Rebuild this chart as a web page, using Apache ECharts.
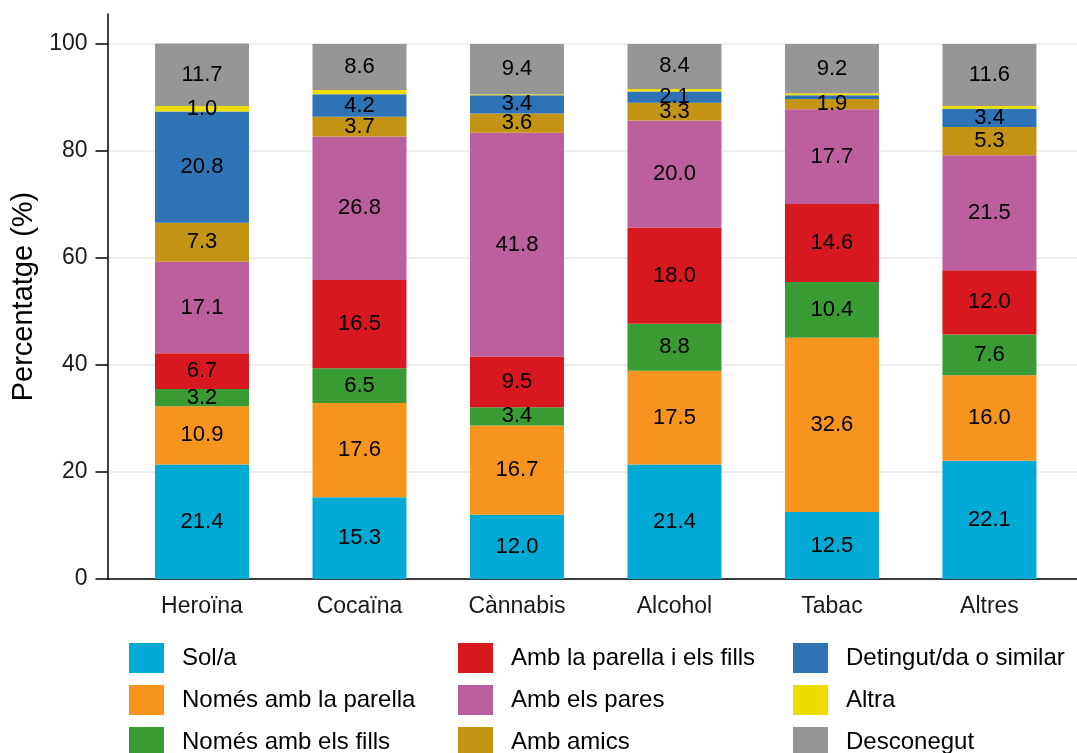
<!DOCTYPE html>
<html>
<head>
<meta charset="utf-8">
<script src="https://cdn.jsdelivr.net/npm/echarts@6/dist/echarts.min.js"></script>
<style>html,body{margin:0;padding:0;background:#fff}#c{width:1077px;height:753px}</style>
</head>
<body>
<div id="c"></div>
<script>
const categories = ['Heroïna', 'Cocaïna', 'Cànnabis', 'Alcohol', 'Tabac', 'Altres'];
const seriesNames = ['Sol/a', 'Només amb la parella', 'Només amb els fills', 'Amb la parella i els fills', 'Amb els pares', 'Amb amics', 'Detingut/da o similar', 'Altra', 'Desconegut'];
const solA        = [21.4, 15.3, 12.0, 21.4, 12.5, 22.1];
const nomesParella = [10.9, 17.6, 16.7, 17.5, 32.6, 16.0];
const nomesFills  = [3.2, 6.5, 3.4, 8.8, 10.4, 7.6];
const parellaFills = [6.7, 16.5, 9.5, 18.0, 14.6, 12.0];
const pares       = [17.1, 26.8, 41.8, 20.0, 17.7, 21.5];
const amics       = [7.3, 3.7, 3.6, 3.3, 1.9, 5.3];
const detingut    = [20.8, 4.2, 3.4, 2.1, 0.7, 3.4];
const altra       = [1.0, 0.8, 0.2, 0.5, 0.4, 0.5];
const desconegut  = [11.7, 8.6, 9.4, 8.4, 9.2, 11.6];
const yTicks = [0, 20, 40, 60, 80, 100];
const colors = ['#00AAD4', '#F7941D', '#3A9B35', '#D7191F', '#BC5F9F', '#C49415', '#2E73B5', '#EEDD00', '#969696'];

const allValues = [solA, nomesParella, nomesFills, parellaFills, pares, amics, detingut, altra, desconegut];
const catPos = categories.map((c, i) => i + 1);

const series = seriesNames.map((name, si) => ({
  name: name,
  type: 'bar',
  stack: 'total',
  barWidth: 94,
  itemStyle: { color: colors[si] },
  encode: { x: 1, y: 0 },
  label: {
    show: true,
    position: 'inside',
    color: '#000',
    fontSize: 22,
    fontFamily: 'Liberation Sans',
    formatter: p => (p.value[0] >= 1 ? p.value[0].toFixed(1) : '')
  },
  emphasis: { disabled: true },
  data: allValues[si].map((v, i) => [v, catPos[i]])
}));

const legendBase = {
  orient: 'vertical',
  top: 643,
  height: 130,
  padding: 0,
  itemWidth: 35,
  itemHeight: 30,
  itemGap: 12,
  icon: 'rect',
  selectedMode: false,
  textStyle: { fontSize: 24, color: '#000', fontFamily: 'Liberation Sans', padding: [0, 0, 0, 13] }
};

const option = {
  animation: false,
  backgroundColor: '#fff',
  textStyle: { fontFamily: 'Liberation Sans' },
  grid: { left: 107.5, right: 0, top: 14, bottom: 174, containLabel: false },
  legend: [
    Object.assign({}, legendBase, { left: 129, data: seriesNames.slice(0, 3) }),
    Object.assign({}, legendBase, { left: 458, data: seriesNames.slice(3, 6) }),
    Object.assign({}, legendBase, { left: 793, data: seriesNames.slice(6, 9) })
  ],
  xAxis: {
    type: 'value',
    min: 0.4,
    max: 6.556,
    splitLine: { show: false },
    axisLine: { show: true, onZero: false, lineStyle: { color: '#000', width: 1.5 } },
    axisTick: { show: false },
    axisLabel: {
      customValues: catPos,
      formatter: v => categories[Math.round(v) - 1] || '',
      fontSize: 23,
      color: '#1a1a1a',
      margin: 16,
      fontFamily: 'Liberation Sans'
    }
  },
  yAxis: {
    type: 'value',
    min: 0,
    max: 105.6,
    interval: 20,
    name: 'Percentatge (%)',
    nameLocation: 'middle',
    nameGap: 67,
    nameTextStyle: { fontSize: 29, color: '#000', fontFamily: 'Liberation Sans' },
    axisLine: { show: true, lineStyle: { color: '#000', width: 1.5 } },
    axisTick: { show: true, length: 12, customValues: yTicks, lineStyle: { color: '#000', width: 1.5 } },
    axisLabel: { customValues: yTicks, fontSize: 23, color: '#1a1a1a', margin: 20, fontFamily: 'Liberation Sans' },
    splitLine: { show: true, lineStyle: { color: '#E8E8E8', width: 1.5 } }
  },
  series: series
};

const chart = echarts.init(document.getElementById('c'), null, { renderer: 'canvas' });
chart.setOption(option);
</script>
</body>
</html>
